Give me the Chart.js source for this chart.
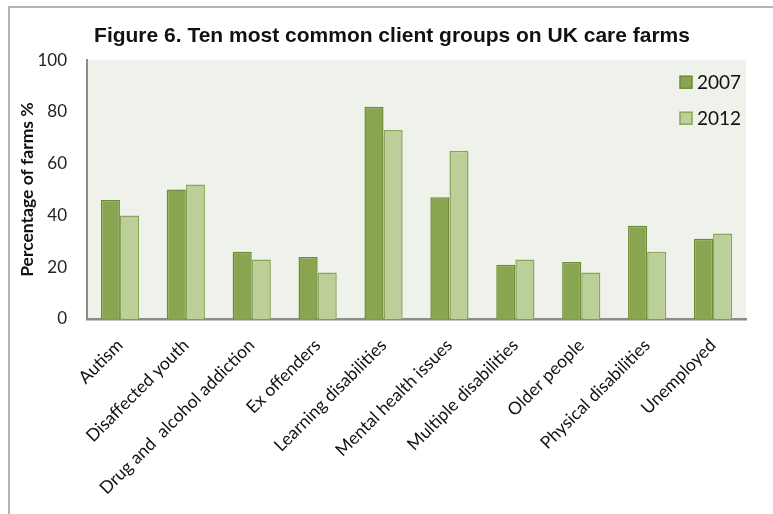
<!DOCTYPE html>
<html>
<head>
<meta charset="utf-8">
<script src="https://cdn.jsdelivr.net/npm/chart.js@4/dist/chart.umd.min.js"></script>
<style>
  html, body { margin: 0; padding: 0; background: #fff; }
  #frame {
    position: absolute; left: 8px; top: 6px;
    width: 765px; height: 508px;
    border-top: 2px solid #b4b4b4; border-left: 2px solid #b4b4b4;
  }
  #wrap { position: absolute; left: 1px; top: 0; width: 762px; height: 506px; }
</style>
</head>
<body>
<div id="frame"><div id="wrap"><canvas id="chart"></canvas></div></div>
<script>
var groups = ["Autism", "Disaffected youth", "Drug and  alcohol addiction", "Ex offenders",
  "Learning disabilities", "Mental health issues", "Multiple disabilities", "Older people",
  "Physical disabilities", "Unemployed"];
var years = ["2007", "2012"];
var pct2007 = [46, 50, 26, 24, 82, 47, 21, 22, 36, 31];
var pct2012 = [40, 52, 23, 18, 73, 65, 23, 18, 26, 33];
var yTicks = [0, 20, 40, 60, 80, 100];

// plot area background
var plotBg = {
  id: "plotBg",
  beforeDraw: function(chart) {
    var a = chart.chartArea, c = chart.ctx;
    c.save();
    c.fillStyle = "#eff2ea";
    c.fillRect(a.left, a.top, a.right - a.left, a.bottom - a.top);
    c.restore();
  }
};

// legend inside the plot, top right, one item per row
var innerLegend = {
  id: "innerLegend",
  afterDraw: function(chart) {
    var a = chart.chartArea, c = chart.ctx;
    c.save();
    c.font = "19px Lato";
    c.textBaseline = "middle";
    chart.data.datasets.forEach(function(ds, i) {
      var y = a.top + 22 + i * 36;
      var x = a.right - 66;
      c.fillStyle = ds.backgroundColor;
      c.fillRect(x, y - 6, 12, 12);
      c.strokeStyle = ds.borderColor;
      c.lineWidth = 1.5;
      c.strokeRect(x, y - 6, 12, 12);
      c.fillStyle = "#111";
      c.fillText(ds.label, x + 17, y + 1);
    });
    c.restore();
  }
};

new Chart(document.getElementById("chart"), {
  type: "bar",
  data: {
    labels: groups,
    datasets: [
      { label: years[0], data: pct2007, backgroundColor: "#89a54f", borderColor: "#6e8a39", borderWidth: 1.5 },
      { label: years[1], data: pct2012, backgroundColor: "#bccf98", borderColor: "#8aa55a", borderWidth: 1.5 }
    ]
  },
  options: {
    responsive: true,
    maintainAspectRatio: false,
    animation: false,
    layout: { padding: 0 },
    categoryPercentage: 0.58,
    barPercentage: 1.0,
    plugins: {
      legend: { display: false },
      tooltip: { enabled: false },
      title: {
        display: true,
        text: "Figure 6. Ten most common client groups on UK care farms",
        color: "#111",
        font: { family: "'Liberation Sans'", size: 21, weight: "bold", lineHeight: 1.2 },
        padding: { top: 16, bottom: 11 }
      }
    },
    scales: {
      x: {
        grid: { display: false, drawTicks: false },
        border: { display: true, color: "#8c8c8c", width: 2.5 },
        ticks: {
          minRotation: 45, maxRotation: 45, autoSkip: false,
          padding: 16, color: "#111",
          font: { family: "Lato", size: 17.5 }
        },
        afterFit: function(s) { s.height = 195; }
      },
      y: {
        min: 0, max: 100,
        afterBuildTicks: function(s) { s.ticks = yTicks.map(function(v) { return { value: v }; }); },
        grid: { display: false, drawTicks: false },
        border: { display: true, color: "#8c8c8c", width: 2 },
        ticks: { padding: 20, color: "#222", font: { family: "Lato", size: 17 } },
        title: {
          display: true, text: "Percentage of farms %", color: "#111",
          font: { family: "Lato", size: 17.5, weight: "bold" },
          padding: { top: 6, bottom: 0 }
        },
        afterFit: function(s) { s.width = 76; }
      },
      // empty right-hand spacer so the title stays centred on the whole canvas
      yRight: {
        position: "right",
        min: 0, max: 100,
        grid: { display: false, drawTicks: false },
        border: { display: false },
        ticks: { display: false },
        afterFit: function(s) { s.width = 27; }
      }
    }
  },
  plugins: [plotBg, innerLegend]
});
</script>
</body>
</html>
